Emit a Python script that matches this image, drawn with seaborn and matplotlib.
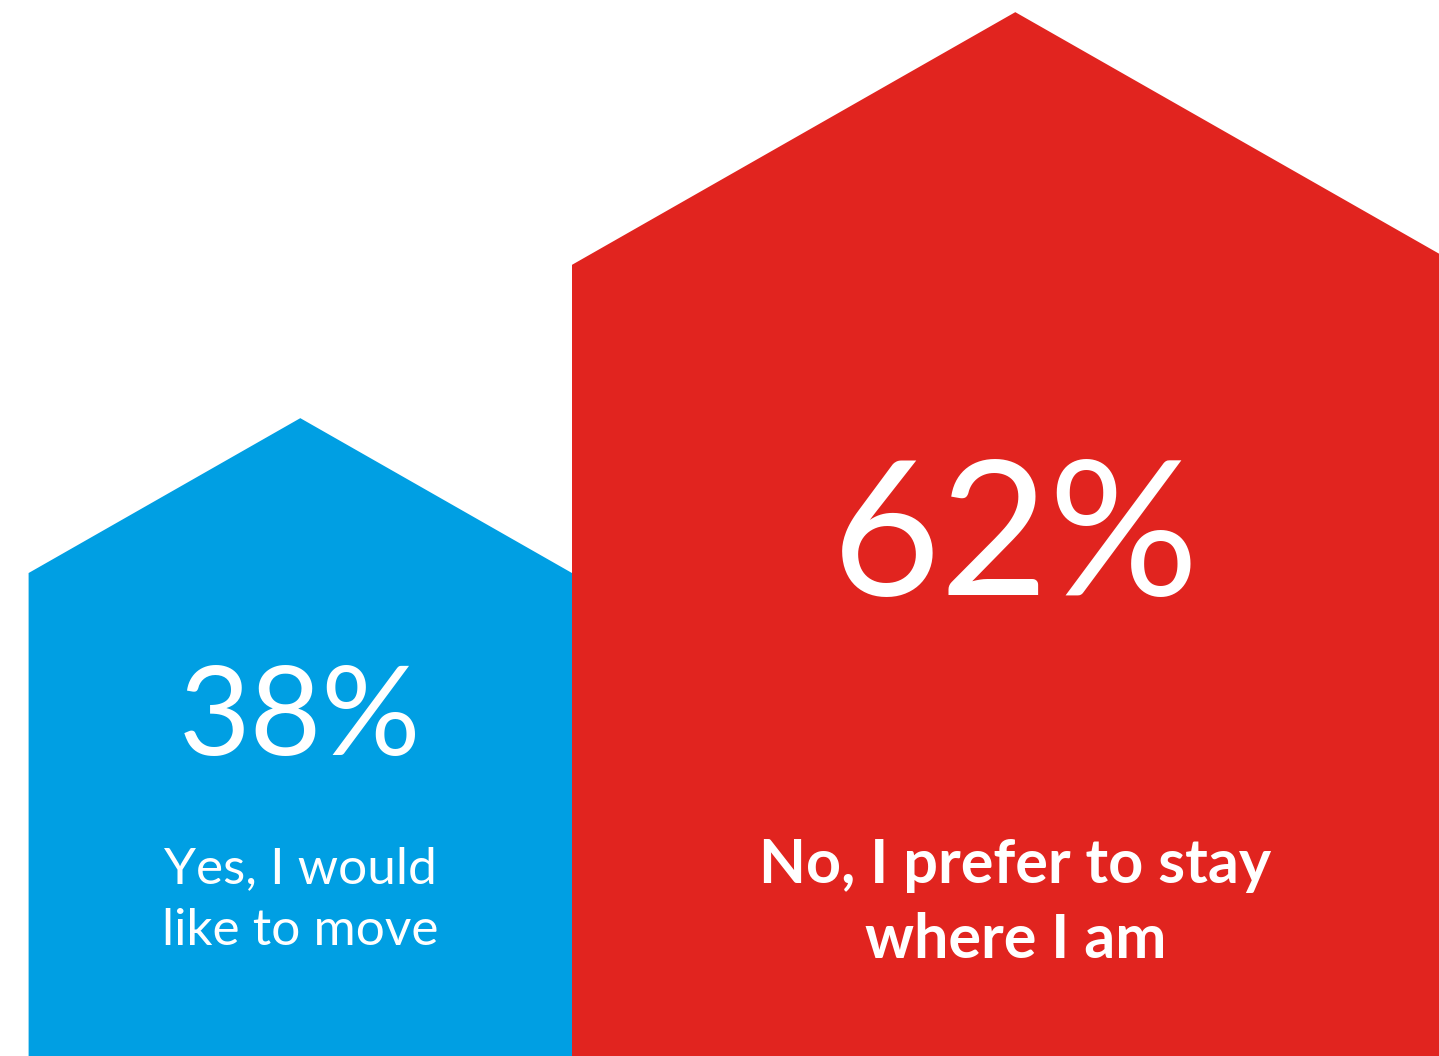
import matplotlib
matplotlib.use("Agg")
import matplotlib.pyplot as plt
import seaborn as sns

# survey answers
answers = ["Yes, I would\nlike to move", "No, I prefer to stay\nwhere I am"]
shares = [38, 62]
house_colors = ["#009FE3", "#E1241F"]

# house shape relative to its value (width == value)
WALL = 0.898
PEAK = 1.183
PX = 14.3  # pixels per unit


def house(ax, left, value, color):
    w = value
    xs = [left, left, left + w / 2, left + w, left + w]
    ys = [0, WALL * value, PEAK * value, WALL * value, 0]
    ax.fill(xs, ys, color=color, lw=0)


sns.set_theme(style="white")
plt.rcParams['font.family'] = ['Lato', 'DejaVu Sans']

fig = plt.figure(figsize=(14.39, 10.56), dpi=100)
ax = fig.add_axes([0, 0, 1, 1])
ax.set_xlim(0, 1439 / PX)
ax.set_ylim(5 / PX, 5 / PX + 1056 / PX)
ax.axis('off')

pct_y = [23.85, 36.3]
pct_size = [89, 135]
lab_size = [37, 44]
lab_weight = ['normal', 'bold']
lab_y = [11.25, 11.1]

left = 2.0
for i in range(len(shares)):
    v = shares[i]
    house(ax, left, v, house_colors[i])
    cx = left + v / 2
    ax.text(cx, pct_y[i], f"{v}%", color='white', fontsize=pct_size[i],
            fontweight='normal', ha='center', va='center')
    ax.text(cx, lab_y[i], answers[i], color='white', fontsize=lab_size[i],
            fontweight=lab_weight[i], ha='center', va='center',
            linespacing=1.42)
    left += v

plt.savefig("out.png", dpi=100)
